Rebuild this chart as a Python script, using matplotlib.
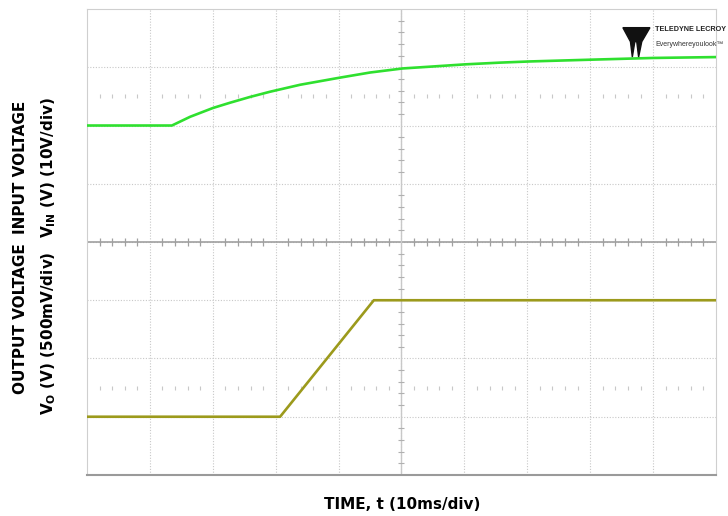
import numpy as np
import matplotlib.pyplot as plt
from matplotlib.patches import Polygon

# time in ms, 10 ms/div
t_in = [0, 13.5, 16.4, 20.0, 22.7, 25.9, 29.1, 33.9, 40.1, 45.0, 50.2, 54.5, 60.1, 65.7, 70.4, 80.0, 90.0, 100]
v_in = [0, 0.0, 1.5, 3.0, 3.9, 4.9, 5.8, 7.0, 8.2, 9.1, 9.8, 10.1, 10.5, 10.8, 11.0, 11.3, 11.6, 11.75]
t_out = [0, 30.7, 45.6, 100]
v_out = [0, 0.0, 1.0, 1.0]

in_scale, in_offset = 10.0, 2.0     # V/div, zero level (div)
out_scale, out_offset = 0.5, -3.0

fig = plt.figure(figsize=(7.28, 5.16), dpi=100)
ax = fig.add_axes([0.1195, 0.0795, 0.864, 0.903])
ax.set_xlim(0, 100)
ax.set_ylim(-4, 4)

# scope grid
for gx in range(10, 100, 10):
    ax.axvline(gx, color='#c8c8c8', lw=0.8, ls=(0, (1, 1.5)), zorder=1)
for gy in range(-3, 4):
    ax.axhline(gy, color='#c8c8c8', lw=0.8, ls=(0, (1, 1.5)), zorder=1)
ax.axhline(0, color='#a0a0a0', lw=1.2, zorder=1)
ax.axvline(50, color='#c8c8c8', lw=1.0, zorder=1)
minor_x = [x for x in np.arange(2, 100, 2) if x % 10 != 0]
minor_y = [y for y in np.arange(-3.8, 4, 0.2) if abs(y - round(y)) > 1e-6]
ax.plot(minor_x, [0] * len(minor_x), '|', color='#a0a0a0', ms=6, mew=0.9, zorder=1)
ax.plot([50] * len(minor_y), minor_y, '_', color='#b0b0b0', ms=5, mew=0.8, zorder=1)
for ry in (2.5, -2.5):
    ax.plot(minor_x, [ry] * len(minor_x), '|', color='#c8c8c8', ms=3, mew=0.8, zorder=1)

# traces
ax.plot(t_in, np.array(v_in) / in_scale + in_offset, color='#2fe02f', lw=1.9, zorder=3)
ax.plot(t_out, np.array(v_out) / out_scale + out_offset, color='#9c9a1c', lw=1.9, zorder=3)

for s in ax.spines.values():
    s.set_color('#cfcfcf')
ax.spines['bottom'].set_color('#9a9a9a')
ax.spines['bottom'].set_linewidth(1.5)
ax.set_xticks([])
ax.set_yticks([])

# logo
ax.text(0.903, 0.963, 'TELEDYNE LECROY', transform=ax.transAxes, fontsize=5.2,
        family='Liberation Sans', fontweight='bold', color='#222222', va='top', ha='left')
ax.text(0.903, 0.932, 'Everywhereyoulook\u2122', transform=ax.transAxes, fontsize=5.0,
        family='Liberation Sans', color='#333333', va='top', ha='left')
logo = Polygon([(0.852, 0.960), (0.895, 0.960), (0.882, 0.930), (0.877, 0.897),
                (0.874, 0.930), (0.871, 0.930), (0.867, 0.897), (0.864, 0.930)],
               closed=True, transform=ax.transAxes, color='#111111', zorder=4)
ax.add_patch(logo)

fs = 11
fig.text(0.5525, 0.022, 'TIME, t (10ms/div)', ha='center', va='center',
         fontsize=fs, fontweight='bold')
fig.text(0.028, 0.675, 'INPUT VOLTAGE', rotation=90, ha='center', va='center',
         fontsize=fs, fontweight='bold')
fig.text(0.028, 0.383, 'OUTPUT VOLTAGE', rotation=90, ha='center', va='center',
         fontsize=fs, fontweight='bold')
fig.text(0.067, 0.676, r'$\mathbf{V_{IN}}$ (V) (10V/div)', rotation=90, ha='center',
         va='center', fontsize=fs, fontweight='bold')
fig.text(0.067, 0.355, r'$\mathbf{V_{O}}$ (V) (500mV/div)', rotation=90, ha='center',
         va='center', fontsize=fs, fontweight='bold')

fig.savefig('out.png', dpi=100)
